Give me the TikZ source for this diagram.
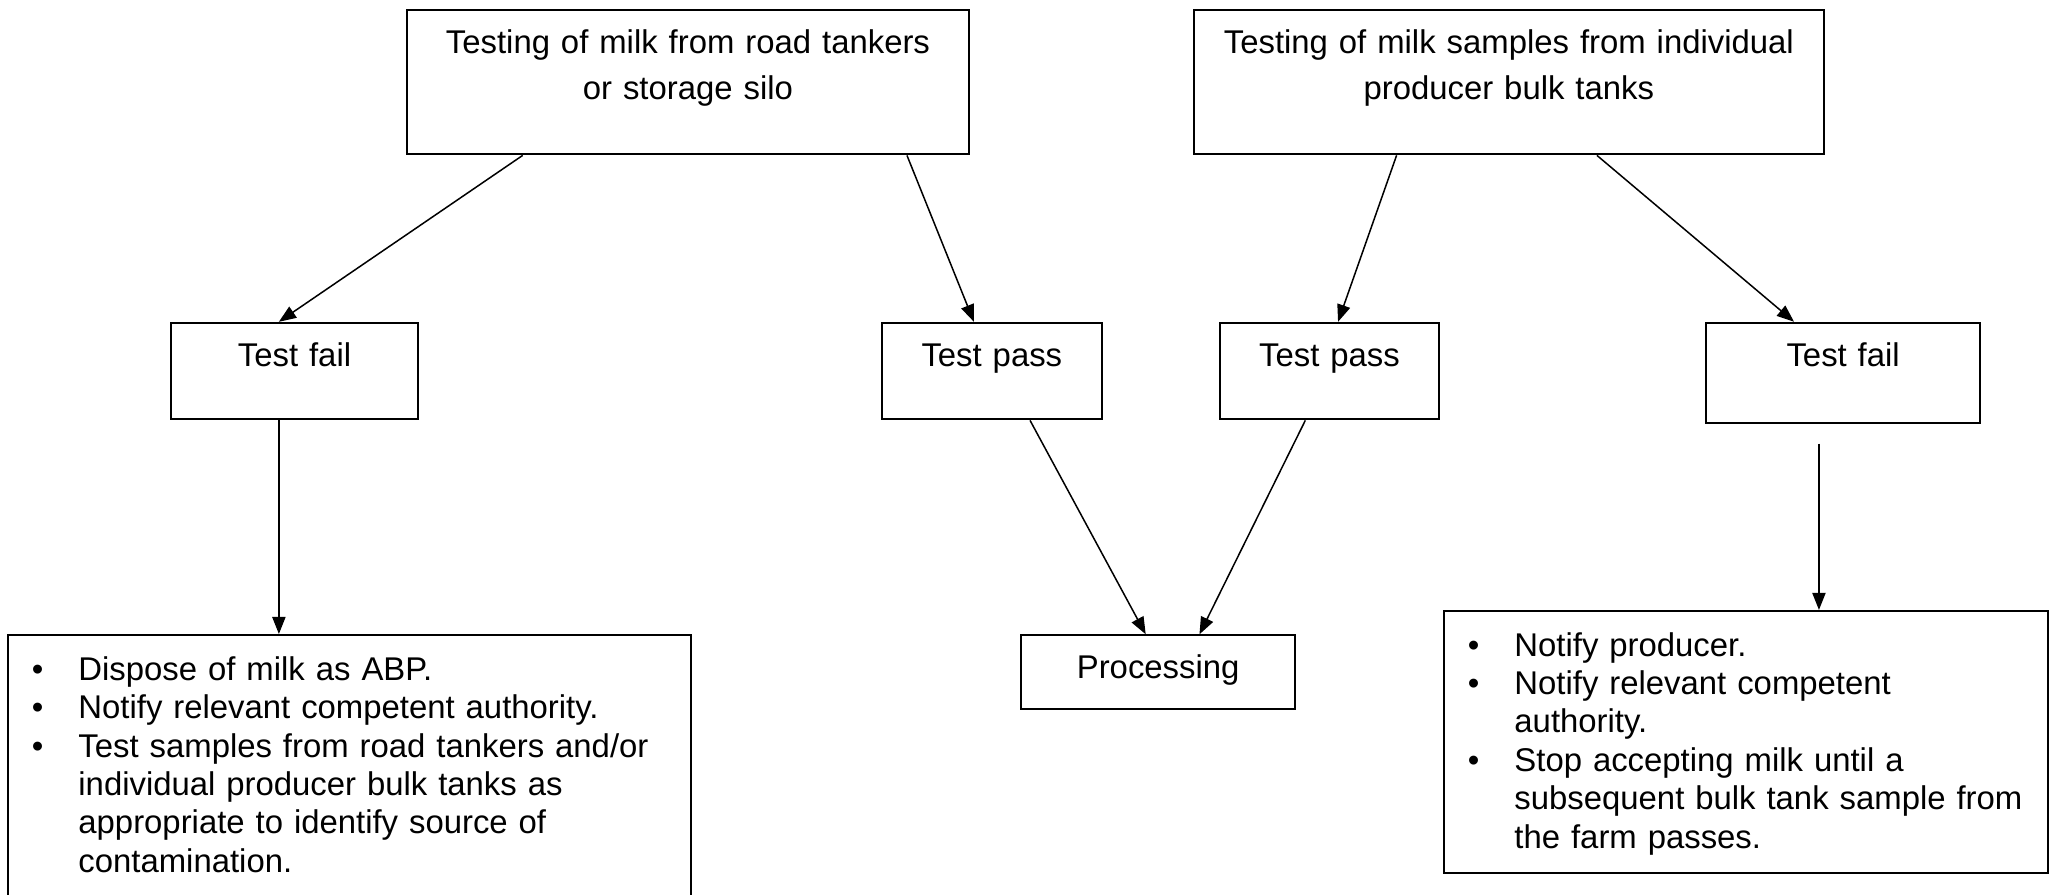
\documentclass[tikz,border=0pt]{standalone}
\usepackage{fontspec}
\setmainfont{Liberation Sans}
\usetikzlibrary{arrows.meta}

\newenvironment{actionlist}{%
  \begin{list}{\textbullet}{%
    \setlength{\leftmargin}{0.80cm}\setlength{\labelwidth}{0.35cm}%
    \setlength{\labelsep}{0.45cm}\setlength{\itemindent}{0pt}%
    \setlength{\itemsep}{0pt}\setlength{\parsep}{0pt}%
    \setlength{\topsep}{0pt}\setlength{\partopsep}{0pt}}%
  \raggedright}{\end{list}}

\tikzset{
  box/.style={draw, line width=0.7pt, inner xsep=0.1cm, inner ysep=0pt,
    anchor=north west, text height=0.56cm},
  flowbox/.style={box, align=center},
  headbox/.style={flowbox, font=\fontsize{12pt}{16.8pt}\selectfont},
  actionbox/.style={box, text height=0.09cm, font=\fontsize{12pt}{14pt}\selectfont},
  flowarrow/.style={line width=0.55pt, -{Triangle[length=0.22cm,width=0.17cm]}}
}

\begin{document}
\begin{tikzpicture}[font=\fontsize{12pt}{13.33pt}\selectfont]
  \useasboundingbox (0,0) rectangle (26.34,11.483);
  \clip (0,0) rectangle (26.34,11.483);

  \node[headbox, text width=7.01cm, text depth=1.29cm] (milkTanker) at (5.209,11.364)
    {Testing of milk from road tankers\\or storage silo};
  \node[headbox, text width=7.88cm, text depth=1.29cm] (milkProducer) at (15.306,11.364)
    {Testing of milk samples from individual\\producer bulk tanks};

  \node[flowbox, text width=2.97cm, text depth=0.68cm] (failTanker) at (2.181,7.354) {Test fail};
  \node[flowbox, text width=2.62cm, text depth=0.68cm] (passTanker) at (11.303,7.354) {Test pass};
  \node[flowbox, text width=2.61cm, text depth=0.68cm] (passProducer) at (15.640,7.354) {Test pass};
  \node[flowbox, text width=3.32cm, text depth=0.73cm] (failProducer) at (21.875,7.355) {Test fail};

  \node[flowbox, text width=3.32cm, text depth=0.39cm] (processing) at (13.087,3.345) {Processing};

  \node[actionbox, text width=8.56cm, text depth=3.46cm] (actTanker) at (0.094,3.348) {%
    \begin{actionlist}
      \item Dispose of milk as ABP.
      \item Notify relevant competent authority.
      \item Test samples from road tankers and/or\newline individual producer bulk tanks as\newline
        appropriate to identify source of\newline contamination.
    \end{actionlist}};
  \node[actionbox, text width=7.54cm, text depth=3.27cm] (actProducer) at (18.518,3.657) {%
    \begin{actionlist}
      \item Notify producer.
      \item Notify relevant competent\newline authority.
      \item Stop accepting milk until a\newline subsequent bulk tank sample from\newline
        the farm passes.
    \end{actionlist}};

  \draw[flowarrow] ([xshift=-2.12cm]milkTanker.south) -- ([xshift=-0.2cm]failTanker.north);
  \draw[flowarrow] ([xshift=2.81cm]milkTanker.south) -- ([xshift=-0.23cm]passTanker.north);
  \draw[flowarrow] ([xshift=-1.44cm]milkProducer.south) -- ([xshift=0.11cm]passProducer.north);
  \draw[flowarrow] ([xshift=1.13cm]milkProducer.south) -- ([xshift=-0.63cm]failProducer.north);

  \draw[flowarrow] ([xshift=-0.2cm]failTanker.south) -- ([xshift=-0.2cm]failTanker.south |- actTanker.north);
  \draw[flowarrow] ([xshift=0.49cm]passTanker.south) -- ([xshift=-0.16cm]processing.north);
  \draw[flowarrow] ([xshift=-0.31cm]passProducer.south) -- ([xshift=0.53cm]processing.north);
  \coordinate (gapProducer) at ([xshift=-0.31cm,yshift=-0.25cm]failProducer.south);
  \draw[flowarrow] (gapProducer) -- (gapProducer |- actProducer.north);
\end{tikzpicture}
\end{document}
